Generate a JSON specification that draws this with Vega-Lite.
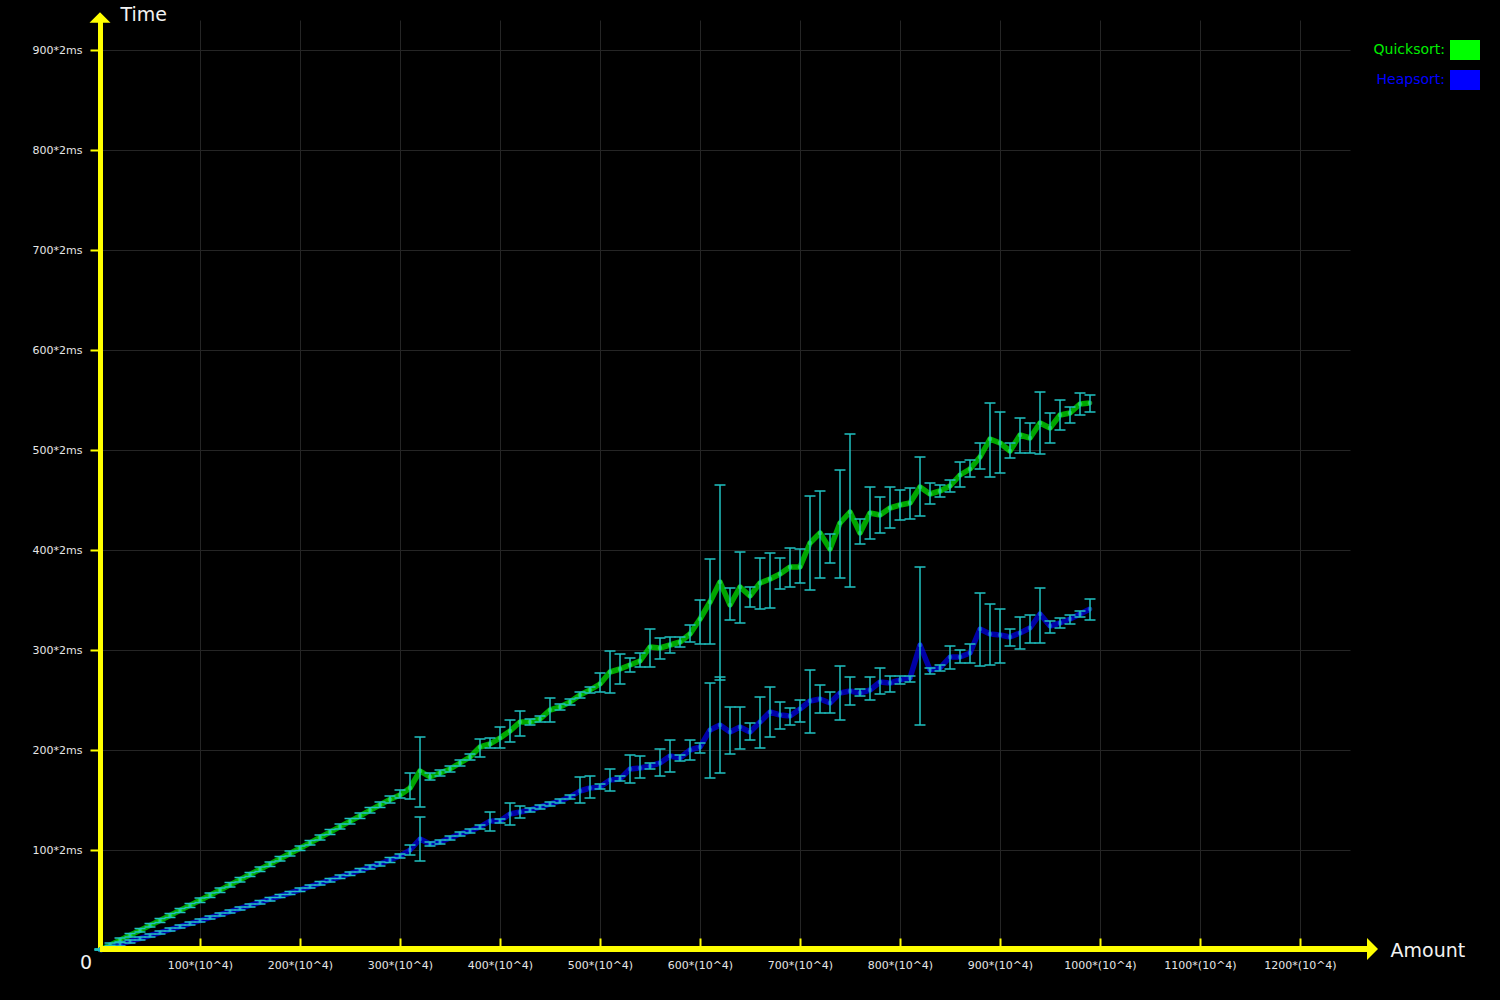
{
  "$schema": "https://vega.github.io/schema/vega-lite/v6.json",
  "width": 1250,
  "height": 930,
  "autosize": {"type": "none"},
  "padding": {"left": 100, "top": 20, "right": 150, "bottom": 50},
  "background": "#000000",
  "config": {"view": {"stroke": null}, "font": "DejaVu Sans"},
  "data": {"values": [
    {"algo":"Quicksort","n":0,"t":0,"lo":0,"hi":1},{"algo":"Quicksort","n":10,"t":4.9,"lo":3,"hi":7},{"algo":"Quicksort","n":20,"t":9.8,"lo":8,"hi":12},{"algo":"Quicksort","n":30,"t":14.7,"lo":13,"hi":16.5},{"algo":"Quicksort","n":40,"t":19.6,"lo":18,"hi":21.5},
    {"algo":"Quicksort","n":50,"t":24.6,"lo":23,"hi":26.5},{"algo":"Quicksort","n":60,"t":29.5,"lo":27.5,"hi":31.5},{"algo":"Quicksort","n":70,"t":34.5,"lo":32.5,"hi":36.5},{"algo":"Quicksort","n":80,"t":39.6,"lo":37.5,"hi":41.5},{"algo":"Quicksort","n":90,"t":44.6,"lo":42.5,"hi":46.5},
    {"algo":"Quicksort","n":100,"t":49.7,"lo":47.5,"hi":52},{"algo":"Quicksort","n":110,"t":54.8,"lo":52.5,"hi":57},{"algo":"Quicksort","n":120,"t":59.9,"lo":57.5,"hi":62},{"algo":"Quicksort","n":130,"t":65.1,"lo":63,"hi":67.5},{"algo":"Quicksort","n":140,"t":70.3,"lo":68,"hi":72.5},
    {"algo":"Quicksort","n":150,"t":75.5,"lo":73.5,"hi":77.5},{"algo":"Quicksort","n":160,"t":80.7,"lo":78.5,"hi":83},{"algo":"Quicksort","n":170,"t":85.9,"lo":83.5,"hi":88},{"algo":"Quicksort","n":180,"t":91.2,"lo":89,"hi":93.5},{"algo":"Quicksort","n":190,"t":96.5,"lo":94,"hi":99},
    {"algo":"Quicksort","n":200,"t":101.8,"lo":99.5,"hi":104},{"algo":"Quicksort","n":210,"t":107.1,"lo":105,"hi":109.5},{"algo":"Quicksort","n":220,"t":112.5,"lo":110,"hi":115},{"algo":"Quicksort","n":230,"t":117.9,"lo":115.5,"hi":120.5},{"algo":"Quicksort","n":240,"t":123.3,"lo":121,"hi":126},
    {"algo":"Quicksort","n":250,"t":128.7,"lo":126,"hi":131.5},{"algo":"Quicksort","n":260,"t":134.2,"lo":131.5,"hi":137},{"algo":"Quicksort","n":270,"t":139.7,"lo":137,"hi":142.5},{"algo":"Quicksort","n":280,"t":145.2,"lo":142.5,"hi":148},{"algo":"Quicksort","n":290,"t":150.5,"lo":147,"hi":154},
    {"algo":"Quicksort","n":300,"t":155,"lo":152,"hi":160},{"algo":"Quicksort","n":310,"t":162,"lo":151,"hi":177},{"algo":"Quicksort","n":320,"t":179,"lo":143,"hi":213},{"algo":"Quicksort","n":330,"t":173,"lo":170,"hi":177},{"algo":"Quicksort","n":340,"t":177,"lo":174,"hi":180},
    {"algo":"Quicksort","n":350,"t":181,"lo":178,"hi":184},{"algo":"Quicksort","n":360,"t":187,"lo":184,"hi":190},{"algo":"Quicksort","n":370,"t":193,"lo":190,"hi":196},{"algo":"Quicksort","n":380,"t":203,"lo":193,"hi":211},{"algo":"Quicksort","n":390,"t":206,"lo":202,"hi":212},
    {"algo":"Quicksort","n":400,"t":212,"lo":202,"hi":223},{"algo":"Quicksort","n":410,"t":219,"lo":208,"hi":230},{"algo":"Quicksort","n":420,"t":228,"lo":214,"hi":239},{"algo":"Quicksort","n":430,"t":228,"lo":225,"hi":231},{"algo":"Quicksort","n":440,"t":231,"lo":228,"hi":234},
    {"algo":"Quicksort","n":450,"t":240,"lo":228,"hi":252},{"algo":"Quicksort","n":460,"t":243,"lo":240,"hi":246},{"algo":"Quicksort","n":470,"t":248,"lo":245,"hi":251},{"algo":"Quicksort","n":480,"t":255,"lo":252,"hi":258},{"algo":"Quicksort","n":490,"t":260,"lo":257,"hi":263},
    {"algo":"Quicksort","n":500,"t":266,"lo":258,"hi":277},{"algo":"Quicksort","n":510,"t":278,"lo":257,"hi":299},{"algo":"Quicksort","n":520,"t":281,"lo":266,"hi":296},{"algo":"Quicksort","n":530,"t":285,"lo":278,"hi":292},{"algo":"Quicksort","n":540,"t":289,"lo":283,"hi":297},
    {"algo":"Quicksort","n":550,"t":303,"lo":283,"hi":321},{"algo":"Quicksort","n":560,"t":302,"lo":291,"hi":312},{"algo":"Quicksort","n":570,"t":305,"lo":297,"hi":313},{"algo":"Quicksort","n":580,"t":308,"lo":303,"hi":313},{"algo":"Quicksort","n":590,"t":316,"lo":308,"hi":325},
    {"algo":"Quicksort","n":600,"t":331,"lo":306,"hi":350},{"algo":"Quicksort","n":610,"t":348,"lo":306,"hi":391},{"algo":"Quicksort","n":620,"t":368,"lo":270,"hi":465},{"algo":"Quicksort","n":630,"t":345,"lo":330,"hi":362},{"algo":"Quicksort","n":640,"t":363,"lo":327,"hi":398},
    {"algo":"Quicksort","n":650,"t":354,"lo":343,"hi":363},{"algo":"Quicksort","n":660,"t":367,"lo":341,"hi":392},{"algo":"Quicksort","n":670,"t":371,"lo":342,"hi":397},{"algo":"Quicksort","n":680,"t":376,"lo":361,"hi":392},{"algo":"Quicksort","n":690,"t":383,"lo":363,"hi":402},
    {"algo":"Quicksort","n":700,"t":383,"lo":367,"hi":401},{"algo":"Quicksort","n":710,"t":407,"lo":360,"hi":454},{"algo":"Quicksort","n":720,"t":417,"lo":372,"hi":459},{"algo":"Quicksort","n":730,"t":401,"lo":387,"hi":416},{"algo":"Quicksort","n":740,"t":427,"lo":372,"hi":480},
    {"algo":"Quicksort","n":750,"t":438,"lo":363,"hi":516},{"algo":"Quicksort","n":760,"t":417,"lo":406,"hi":431},{"algo":"Quicksort","n":770,"t":437,"lo":411,"hi":463},{"algo":"Quicksort","n":780,"t":435,"lo":417,"hi":453},{"algo":"Quicksort","n":790,"t":442,"lo":422,"hi":463},
    {"algo":"Quicksort","n":800,"t":445,"lo":430,"hi":460},{"algo":"Quicksort","n":810,"t":447,"lo":431,"hi":462},{"algo":"Quicksort","n":820,"t":463,"lo":434,"hi":493},{"algo":"Quicksort","n":830,"t":456,"lo":446,"hi":467},{"algo":"Quicksort","n":840,"t":459,"lo":453,"hi":465},
    {"algo":"Quicksort","n":850,"t":464,"lo":458,"hi":470},{"algo":"Quicksort","n":860,"t":475,"lo":463,"hi":488},{"algo":"Quicksort","n":870,"t":481,"lo":473,"hi":490},{"algo":"Quicksort","n":880,"t":493,"lo":481,"hi":507},{"algo":"Quicksort","n":890,"t":511,"lo":473,"hi":547},
    {"algo":"Quicksort","n":900,"t":507,"lo":477,"hi":538},{"algo":"Quicksort","n":910,"t":499,"lo":492,"hi":507},{"algo":"Quicksort","n":920,"t":515,"lo":497,"hi":532},{"algo":"Quicksort","n":930,"t":512,"lo":497,"hi":527},{"algo":"Quicksort","n":940,"t":527,"lo":496,"hi":558},
    {"algo":"Quicksort","n":950,"t":522,"lo":507,"hi":537},{"algo":"Quicksort","n":960,"t":535,"lo":520,"hi":550},{"algo":"Quicksort","n":970,"t":537,"lo":527,"hi":543},{"algo":"Quicksort","n":980,"t":546,"lo":535,"hi":557},{"algo":"Quicksort","n":990,"t":547,"lo":538,"hi":555},
    {"algo":"Heapsort","n":0,"t":0,"lo":0,"hi":1},{"algo":"Heapsort","n":10,"t":2.9,"lo":1.5,"hi":4.5},{"algo":"Heapsort","n":20,"t":5.7,"lo":4,"hi":7.5},{"algo":"Heapsort","n":30,"t":8.6,"lo":7,"hi":10},{"algo":"Heapsort","n":40,"t":11.5,"lo":10,"hi":13},
    {"algo":"Heapsort","n":50,"t":14.5,"lo":13,"hi":16},{"algo":"Heapsort","n":60,"t":17.4,"lo":16,"hi":19},{"algo":"Heapsort","n":70,"t":20.3,"lo":19,"hi":22},{"algo":"Heapsort","n":80,"t":23.3,"lo":22,"hi":25},{"algo":"Heapsort","n":90,"t":26.3,"lo":25,"hi":28},
    {"algo":"Heapsort","n":100,"t":29.3,"lo":28,"hi":31},{"algo":"Heapsort","n":110,"t":32.3,"lo":31,"hi":34},{"algo":"Heapsort","n":120,"t":35.4,"lo":34,"hi":37},{"algo":"Heapsort","n":130,"t":38.4,"lo":37,"hi":40},{"algo":"Heapsort","n":140,"t":41.5,"lo":40,"hi":43},
    {"algo":"Heapsort","n":150,"t":44.6,"lo":43,"hi":46},{"algo":"Heapsort","n":160,"t":47.7,"lo":46,"hi":49.5},{"algo":"Heapsort","n":170,"t":50.8,"lo":49,"hi":52.5},{"algo":"Heapsort","n":180,"t":53.9,"lo":52.5,"hi":55.5},{"algo":"Heapsort","n":190,"t":57,"lo":55.5,"hi":58.5},
    {"algo":"Heapsort","n":200,"t":60.2,"lo":58.5,"hi":62},{"algo":"Heapsort","n":210,"t":63.4,"lo":62,"hi":65},{"algo":"Heapsort","n":220,"t":66.6,"lo":65,"hi":68.5},{"algo":"Heapsort","n":230,"t":69.8,"lo":68,"hi":71.5},{"algo":"Heapsort","n":240,"t":73,"lo":71.5,"hi":75},
    {"algo":"Heapsort","n":250,"t":76.3,"lo":74.5,"hi":78},{"algo":"Heapsort","n":260,"t":79.5,"lo":78,"hi":81.5},{"algo":"Heapsort","n":270,"t":82.8,"lo":81,"hi":85},{"algo":"Heapsort","n":280,"t":86.1,"lo":84,"hi":88},{"algo":"Heapsort","n":290,"t":90,"lo":87.5,"hi":92.5},
    {"algo":"Heapsort","n":300,"t":94,"lo":92,"hi":96},{"algo":"Heapsort","n":310,"t":100,"lo":95,"hi":105},{"algo":"Heapsort","n":320,"t":111,"lo":89,"hi":133},{"algo":"Heapsort","n":330,"t":106,"lo":104,"hi":108},{"algo":"Heapsort","n":340,"t":108,"lo":106,"hi":110},
    {"algo":"Heapsort","n":350,"t":112,"lo":110,"hi":114},{"algo":"Heapsort","n":360,"t":116,"lo":114,"hi":118},{"algo":"Heapsort","n":370,"t":119,"lo":117,"hi":121},{"algo":"Heapsort","n":380,"t":123,"lo":121,"hi":125},{"algo":"Heapsort","n":390,"t":129,"lo":119,"hi":138},
    {"algo":"Heapsort","n":400,"t":129,"lo":127,"hi":131},{"algo":"Heapsort","n":410,"t":136,"lo":125,"hi":147},{"algo":"Heapsort","n":420,"t":138,"lo":132,"hi":144},{"algo":"Heapsort","n":430,"t":140,"lo":138,"hi":142},{"algo":"Heapsort","n":440,"t":143,"lo":141,"hi":145},
    {"algo":"Heapsort","n":450,"t":146,"lo":144,"hi":148},{"algo":"Heapsort","n":460,"t":149,"lo":147,"hi":151},{"algo":"Heapsort","n":470,"t":153,"lo":151,"hi":155},{"algo":"Heapsort","n":480,"t":159,"lo":147,"hi":173},{"algo":"Heapsort","n":490,"t":162,"lo":152,"hi":174},
    {"algo":"Heapsort","n":500,"t":163,"lo":161,"hi":166},{"algo":"Heapsort","n":510,"t":170,"lo":159,"hi":181},{"algo":"Heapsort","n":520,"t":171,"lo":169,"hi":174},{"algo":"Heapsort","n":530,"t":181,"lo":167,"hi":195},{"algo":"Heapsort","n":540,"t":182,"lo":172,"hi":194},
    {"algo":"Heapsort","n":550,"t":184,"lo":181,"hi":187},{"algo":"Heapsort","n":560,"t":187,"lo":174,"hi":201},{"algo":"Heapsort","n":570,"t":194,"lo":178,"hi":210},{"algo":"Heapsort","n":580,"t":192,"lo":189,"hi":195},{"algo":"Heapsort","n":590,"t":200,"lo":190,"hi":210},
    {"algo":"Heapsort","n":600,"t":203,"lo":197,"hi":207},{"algo":"Heapsort","n":610,"t":220,"lo":172,"hi":267},{"algo":"Heapsort","n":620,"t":225,"lo":177,"hi":273},{"algo":"Heapsort","n":630,"t":218,"lo":196,"hi":243},{"algo":"Heapsort","n":640,"t":223,"lo":201,"hi":243},
    {"algo":"Heapsort","n":650,"t":218,"lo":210,"hi":227},{"algo":"Heapsort","n":660,"t":228,"lo":202,"hi":253},{"algo":"Heapsort","n":670,"t":238,"lo":213,"hi":263},{"algo":"Heapsort","n":680,"t":235,"lo":221,"hi":248},{"algo":"Heapsort","n":690,"t":234,"lo":225,"hi":242},
    {"algo":"Heapsort","n":700,"t":241,"lo":228,"hi":250},{"algo":"Heapsort","n":710,"t":249,"lo":217,"hi":280},{"algo":"Heapsort","n":720,"t":251,"lo":237,"hi":265},{"algo":"Heapsort","n":730,"t":247,"lo":237,"hi":258},{"algo":"Heapsort","n":740,"t":257,"lo":230,"hi":284},
    {"algo":"Heapsort","n":750,"t":259,"lo":245,"hi":273},{"algo":"Heapsort","n":760,"t":257,"lo":254,"hi":261},{"algo":"Heapsort","n":770,"t":260,"lo":250,"hi":273},{"algo":"Heapsort","n":780,"t":268,"lo":256,"hi":282},{"algo":"Heapsort","n":790,"t":267,"lo":258,"hi":274},
    {"algo":"Heapsort","n":800,"t":270,"lo":266,"hi":274},{"algo":"Heapsort","n":810,"t":272,"lo":268,"hi":274},{"algo":"Heapsort","n":820,"t":305,"lo":225,"hi":383},{"algo":"Heapsort","n":830,"t":280,"lo":276,"hi":282},{"algo":"Heapsort","n":840,"t":282,"lo":279,"hi":285},
    {"algo":"Heapsort","n":850,"t":293,"lo":281,"hi":304},{"algo":"Heapsort","n":860,"t":293,"lo":287,"hi":300},{"algo":"Heapsort","n":870,"t":297,"lo":287,"hi":306},{"algo":"Heapsort","n":880,"t":321,"lo":284,"hi":357},{"algo":"Heapsort","n":890,"t":316,"lo":285,"hi":346},
    {"algo":"Heapsort","n":900,"t":315,"lo":287,"hi":341},{"algo":"Heapsort","n":910,"t":313,"lo":304,"hi":321},{"algo":"Heapsort","n":920,"t":317,"lo":301,"hi":333},{"algo":"Heapsort","n":930,"t":322,"lo":307,"hi":335},{"algo":"Heapsort","n":940,"t":336,"lo":307,"hi":362},
    {"algo":"Heapsort","n":950,"t":324,"lo":317,"hi":329},{"algo":"Heapsort","n":960,"t":327,"lo":322,"hi":332},{"algo":"Heapsort","n":970,"t":331,"lo":326,"hi":335},{"algo":"Heapsort","n":980,"t":336,"lo":333,"hi":339},{"algo":"Heapsort","n":990,"t":341,"lo":330,"hi":351}
  ]},
  "layer": [
    {
      "mark": {"type": "line", "strokeWidth": 5.5, "opacity": 0.65, "strokeJoin": "round"},
      "encoding": {
        "x": {"field": "n", "type": "quantitative",
              "scale": {"domain": [0, 1250], "nice": false, "zero": false},
              "axis": {
                "values": [0,100,200,300,400,500,600,700,800,900,1000,1100,1200],
                "labelExpr": "datum.value == 0 ? '' : datum.value + '*(10^4)'",
                "labelFont": "DejaVu Sans", "labelFontSize": 11, "labelColor": "#e6e6e6",
                "labelPadding": 21, "labelBaseline": "top", "labelFlush": false,
                "ticks": true, "tickColor": "#ffff00", "tickSize": -12, "tickWidth": 2,
                "domain": false,
                "grid": true, "gridColor": "#252525", "gridWidth": 1,
                "title": "Amount", "titleX": 1290, "titleY": 0, "titleAlign": "left", "titleBaseline": "middle", "titleAngle": 0,
                "titleFont": "DejaVu Sans", "titleFontSize": 19, "titleFontWeight": "normal", "titleColor": "#f2f2f2"
              }},
        "y": {"field": "t", "type": "quantitative",
              "scale": {"domain": [0, 930], "nice": false, "zero": false},
              "axis": {
                "values": [100,200,300,400,500,600,700,800,900],
                "labelExpr": "datum.value + '*2ms'",
                "labelFont": "DejaVu Sans", "labelFontSize": 11, "labelColor": "#e6e6e6",
                "labelPadding": 8, "labelFlush": false,
                "tickColor": "#ffff00", "tickSize": 10, "tickWidth": 2,
                "domain": true, "domainColor": "#ffff00", "domainWidth": 5,
                "grid": true, "gridColor": "#252525", "gridWidth": 1,
                "title": "Time", "titleX": 20, "titleY": 0, "titleAlign": "left", "titleBaseline": "alphabetic", "titleAngle": 0,
                "titleFont": "DejaVu Sans", "titleFontSize": 19, "titleFontWeight": "normal", "titleColor": "#f2f2f2"
              }},
        "color": {"field": "algo", "type": "nominal",
                  "scale": {"domain": ["Quicksort", "Heapsort"], "range": ["#00ff00", "#0000ff"]},
                  "legend": {
                    "title": null, "orient": "none", "legendX": 1270, "legendY": 20,
                    "labelExpr": "datum.label + ':'",
                    "labelFont": "DejaVu Sans", "labelFontSize": 14, "labelAlign": "right",
                    "symbolType": "M-1.5,-1L1.5,-1L1.5,1L-1.5,1Z", "symbolSize": 400, "symbolOpacity": 1,
                    "symbolStrokeWidth": 0, "rowPadding": 10,
                    "encode": {
                      "labels": {"update": {"x": {"value": 75}, "fill": {"signal": "datum.value === 'Quicksort' ? '#00ee00' : '#0000ff'"}}},
                      "symbols": {"update": {"x": {"value": 95}, "fill": {"signal": "datum.value === 'Quicksort' ? '#00ff00' : '#0000ff'"}, "stroke": {"value": "transparent"}, "opacity": {"value": 1}}}
                    }
                  }}
      }
    },
    {
      "transform": [{"filter": "datum.algo === 'Quicksort'"}],
      "mark": {"type": "circle", "size": 22, "opacity": 0.55, "strokeWidth": 0, "fill": "#33ff55"},
      "encoding": {
        "x": {"field": "n", "type": "quantitative"},
        "y": {"field": "t", "type": "quantitative"}
      }
    },
    {
      "transform": [{"filter": "datum.algo === 'Heapsort'"}],
      "mark": {"type": "circle", "size": 22, "opacity": 0.55, "strokeWidth": 0, "fill": "#2266ff"},
      "encoding": {
        "x": {"field": "n", "type": "quantitative"},
        "y": {"field": "t", "type": "quantitative"}
      }
    },
    {
      "mark": {"type": "rule", "color": "#1fc2c2", "strokeWidth": 1.5},
      "encoding": {
        "x": {"field": "n", "type": "quantitative"},
        "y": {"field": "lo", "type": "quantitative"},
        "y2": {"field": "hi"}
      }
    },
    {
      "mark": {"type": "tick", "orient": "horizontal", "size": 11, "thickness": 1.5, "color": "#1fc2c2", "opacity": 1},
      "encoding": {
        "x": {"field": "n", "type": "quantitative"},
        "y": {"field": "lo", "type": "quantitative"}
      }
    },
    {
      "mark": {"type": "tick", "orient": "horizontal", "size": 11, "thickness": 1.5, "color": "#1fc2c2", "opacity": 1},
      "encoding": {
        "x": {"field": "n", "type": "quantitative"},
        "y": {"field": "hi", "type": "quantitative"}
      }
    },
    {
      "data": {"values": [{}]},
      "mark": {"type": "rule", "color": "#ffff00", "strokeWidth": 6},
      "encoding": {
        "x": {"datum": 0, "type": "quantitative"},
        "x2": {"datum": 1268},
        "y": {"datum": 1, "type": "quantitative"}
      }
    },
    {
      "data": {"values": [{}]},
      "mark": {"type": "point", "shape": "M0.5,0L-0.5,1L-0.5,-1Z", "size": 484, "filled": true, "color": "#ffff00", "opacity": 1, "strokeWidth": 0},
      "encoding": {
        "x": {"datum": 1272.5, "type": "quantitative"},
        "y": {"datum": 1, "type": "quantitative"}
      }
    },
    {
      "data": {"values": [{}]},
      "mark": {"type": "point", "shape": "M0,-0.5L1,0.5L-1,0.5Z", "size": 441, "filled": true, "color": "#ffff00", "opacity": 1, "strokeWidth": 0},
      "encoding": {
        "x": {"datum": 0, "type": "quantitative"},
        "y": {"datum": 932.5, "type": "quantitative"}
      }
    },
    {
      "data": {"values": [{"label": "0"}]},
      "mark": {"type": "text", "font": "DejaVu Sans", "fontSize": 19, "color": "#f2f2f2", "align": "center", "baseline": "middle", "dx": -14, "dy": 13},
      "encoding": {
        "x": {"datum": 0, "type": "quantitative"},
        "y": {"datum": 0, "type": "quantitative"},
        "text": {"field": "label"}
      }
    }
  ]
}
